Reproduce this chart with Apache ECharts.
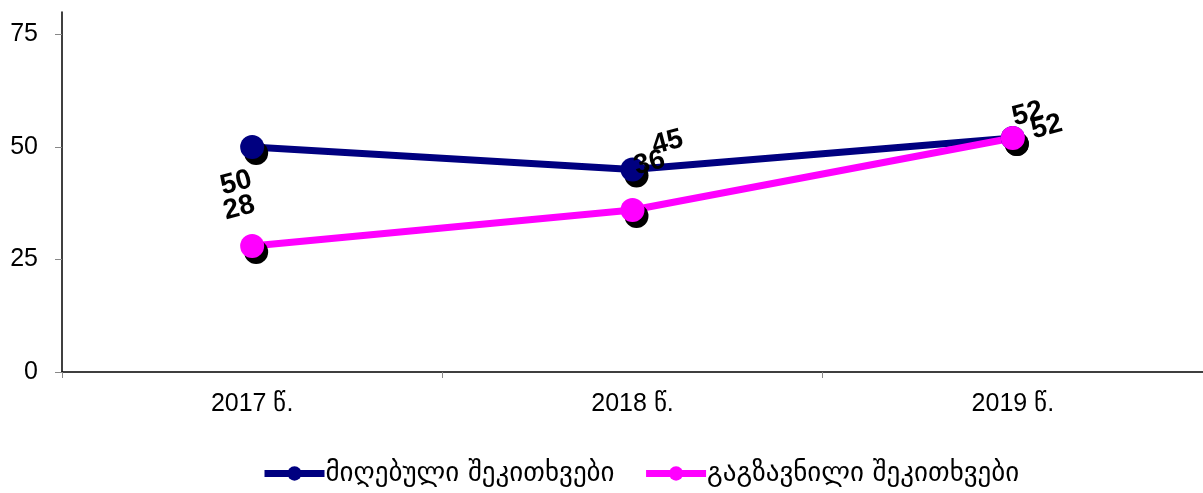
<!DOCTYPE html>
<html><head><meta charset="utf-8">
<script src="https://cdn.jsdelivr.net/npm/echarts@6/dist/echarts.min.js"></script>
<style>html,body{margin:0;padding:0;background:#fff}#c{width:1203px;height:493px}</style>
</head><body><div id="c"></div>
<script>
const categories = ['2017 წ.', '2018 წ.', '2019 წ.'];
const seriesNames = ['მიღებული შეკითხვები', 'გაგზავნილი შეკითხვები'];
const received = [50, 45, 52];
const sent = [28, 36, 52];
const yTicks = [0, 25, 50, 75];

// desired on-screen label offsets (pixels) relative to each point
const labelOffsets1 = [[-16, 36], [35, -27], [15, -24]];
const labelOffsets2 = [[-13, -38], [17, -47], [34, -11]];
const ROT = 15;

function toLocal(o) {
  const a = ROT * Math.PI / 180, c = Math.cos(a), s = Math.sin(a);
  return [o[0] * c - o[1] * s, o[0] * s + o[1] * c];
}
function mk(vals, offs) {
  return vals.map((v, i) => ({ value: v, label: { offset: toLocal(offs[i]) } }));
}
const lbl = { show: true, position: 'inside', rotate: ROT, color: '#000', fontWeight: 'bold',
  fontSize: 28, fontFamily: 'Liberation Sans, Arial, sans-serif' };

const chart = echarts.init(document.getElementById('c'), null, { renderer: 'canvas' });
chart.setOption({
  animation: false,
  backgroundColor: '#fff',
  grid: { left: 62, right: 0, top: 12, bottom: 121, containLabel: false },
  legend: {
    top: 455, left: 256, itemWidth: 60, itemHeight: 18, itemGap: 28,
    textStyle: { fontSize: 27, color: '#000', fontFamily: 'DejaVu Sans, sans-serif', padding: [0, 0, 0, -4] },
    data: seriesNames.map(n => ({ name: n, lineStyle: { width: 7 } }))
  },
  xAxis: {
    type: 'category', data: categories, boundaryGap: true,
    axisLine: { lineStyle: { color: '#000', width: 1.5 } },
    axisTick: { show: true, inside: false, length: 6, lineStyle: { color: '#888' } },
    axisLabel: { fontSize: 25, color: '#000', margin: 20, fontFamily: 'Liberation Sans, Arial, sans-serif' },
    splitLine: { show: false }
  },
  yAxis: {
    type: 'value', min: 0, max: 80,
    axisLine: { show: true, lineStyle: { color: '#000', width: 1.5 } },
    axisTick: { show: true, length: 7, lineStyle: { color: '#888' }, customValues: yTicks },
    axisLabel: { fontSize: 25, color: '#000', margin: 24, customValues: yTicks,
      fontFamily: 'Liberation Sans, Arial, sans-serif' },
    splitLine: { show: false }
  },
  series: [
    {
      name: seriesNames[0], type: 'line', data: mk(received, labelOffsets1),
      symbol: 'circle', symbolSize: 24, color: '#000080',
      lineStyle: { color: '#000080', width: 7 },
      itemStyle: { color: '#000080', shadowColor: '#000', shadowBlur: 0, shadowOffsetX: 4, shadowOffsetY: 6 },
      label: lbl
    },
    {
      name: seriesNames[1], type: 'line', data: mk(sent, labelOffsets2),
      symbol: 'circle', symbolSize: 24, color: '#ff00ff',
      lineStyle: { color: '#ff00ff', width: 7 },
      itemStyle: { color: '#ff00ff', shadowColor: '#000', shadowBlur: 0, shadowOffsetX: 4, shadowOffsetY: 6 },
      label: lbl
    }
  ]
});
</script></body></html>
